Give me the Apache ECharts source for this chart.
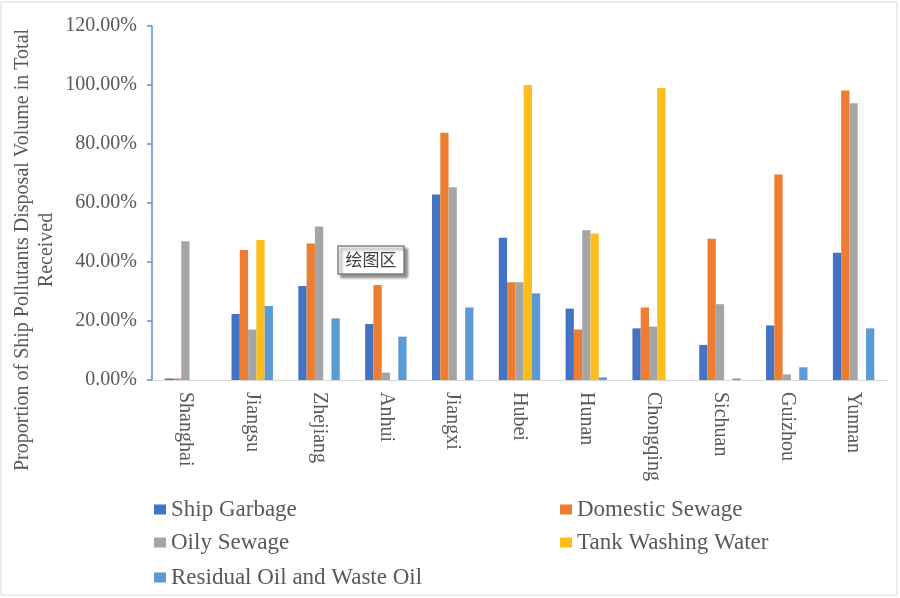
<!DOCTYPE html>
<html>
<head>
<meta charset="utf-8">
<script src="https://cdn.jsdelivr.net/npm/echarts@6/dist/echarts.min.js"></script>
<style>
html,body{margin:0;padding:0;background:#fff;}
#chart{width:900px;height:598px;}
</style>
</head>
<body>
<div id="chart"></div>
<script>
const categories = ['Shanghai','Jiangsu','Zhejiang','Anhui','Jiangxi','Hubei','Hunan','Chongqing','Sichuan','Guizhou','Yunnan'];
const shipGarbage     = [0.5, 22.4, 31.9, 19.0, 62.9, 48.2, 24.2, 17.5, 11.9, 18.5, 43.1];
const domesticSewage  = [0.5, 44.1, 46.3, 32.2, 83.8, 33.1, 17.1, 24.6, 47.9, 69.7, 98.1];
const oilySewage      = [47.0, 17.1, 52.0, 2.5, 65.3, 33.1, 50.8, 18.1, 25.7, 1.9, 93.8];
const tankWashing     = [0, 47.5, 0, 0, 0, 100.0, 49.7, 99.0, 0, 0, 0];
const residualOil     = [0, 25.1, 20.9, 14.7, 24.6, 29.4, 0.9, 0, 0.5, 4.3, 17.5];
const seriesNames = ['Ship Garbage','Domestic Sewage','Oily Sewage','Tank Washing Water','Residual Oil and Waste Oil'];
const yTicks = [0, 20, 40, 60, 80, 100, 120];
const yTitleLine1 = 'Proportion of Ship Pollutants Disposal Volume in Total';
const yTitleLine2 = 'Received';
const plotLabel = '绘图区';

const colors = ['#4472C4','#ED7D31','#A5A5A5','#FBBE1C','#5B9BD5'];
const seriesData = [shipGarbage, domesticSewage, oilySewage, tankWashing, residualOil];
const serif = '"Liberation Serif","Times New Roman",serif';
const textColor = '#595959';

const legendPos = [
  {left:154, top:498},
  {left:560, top:498},
  {left:154, top:531},
  {left:560, top:531},
  {left:154, top:566}
];

const chart = echarts.init(document.getElementById('chart'), null, {renderer:'canvas'});
chart.setOption({
  animation:false,
  color:colors,
  grid:{left:152, right:13, top:26, bottom:218, containLabel:false},
  legend: seriesNames.map((n,i)=>({
    data:[n], left:legendPos[i].left, top:legendPos[i].top,
    itemWidth:12, itemHeight:10, itemGap:0, padding:0,
    icon:'rect',
    textStyle:{fontFamily:serif, fontSize:23, color:textColor}
  })),
  xAxis:{
    type:'category', data:categories,
    axisLine:{show:true, lineStyle:{color:'#D9D9D9', width:1}},
    axisTick:{show:false},
    axisLabel:{rotate:-90, margin:12, fontFamily:serif, fontSize:20, color:textColor, interval:0}
  },
  yAxis:{
    type:'value', min:0, max:120, interval:20,
    splitLine:{show:false},
    axisLine:{show:true, lineStyle:{color:'#5B8FD6', width:1.5}},
    axisTick:{show:true, length:5, lineStyle:{color:'#5B8FD6', width:1.5}},
    axisLabel:{margin:15, fontFamily:serif, fontSize:20, color:textColor,
      formatter:(v)=> yTicks.includes(v) ? v.toFixed(2)+'%' : ''}
  },
  series: seriesNames.map((n,i)=>({
    name:n, type:'bar', data:seriesData[i],
    barGap:'0%', barCategoryGap:'38%',
    itemStyle:{color:colors[i]}
  })),
  graphic:[
    {type:'rect', shape:{x:1, y:2, width:896, height:593}, style:{fill:'none', stroke:'#D9D9D9', lineWidth:1}, silent:true},
    {type:'text', x:23, y:250, rotation:Math.PI/2, style:{text:yTitleLine1, font:'20px "Liberation Serif", serif', fill:textColor, align:'center', verticalAlign:'middle'}},
    {type:'text', x:47, y:250, rotation:Math.PI/2, style:{text:yTitleLine2, font:'20px "Liberation Serif", serif', fill:textColor, align:'center', verticalAlign:'middle'}},
    {type:'rect', shape:{x:338, y:246, width:66, height:28}, style:{fill:'#fff', stroke:'#808080', lineWidth:1.5, shadowBlur:3, shadowOffsetX:3, shadowOffsetY:3, shadowColor:'rgba(0,0,0,0.45)'}, z:100},
    {type:'text', x:371, y:260, style:{text:plotLabel, font:'17px "Noto Sans CJK SC", sans-serif', fill:'#404040', align:'center', verticalAlign:'middle'}, z:101}
  ]
});
</script>
</body>
</html>
